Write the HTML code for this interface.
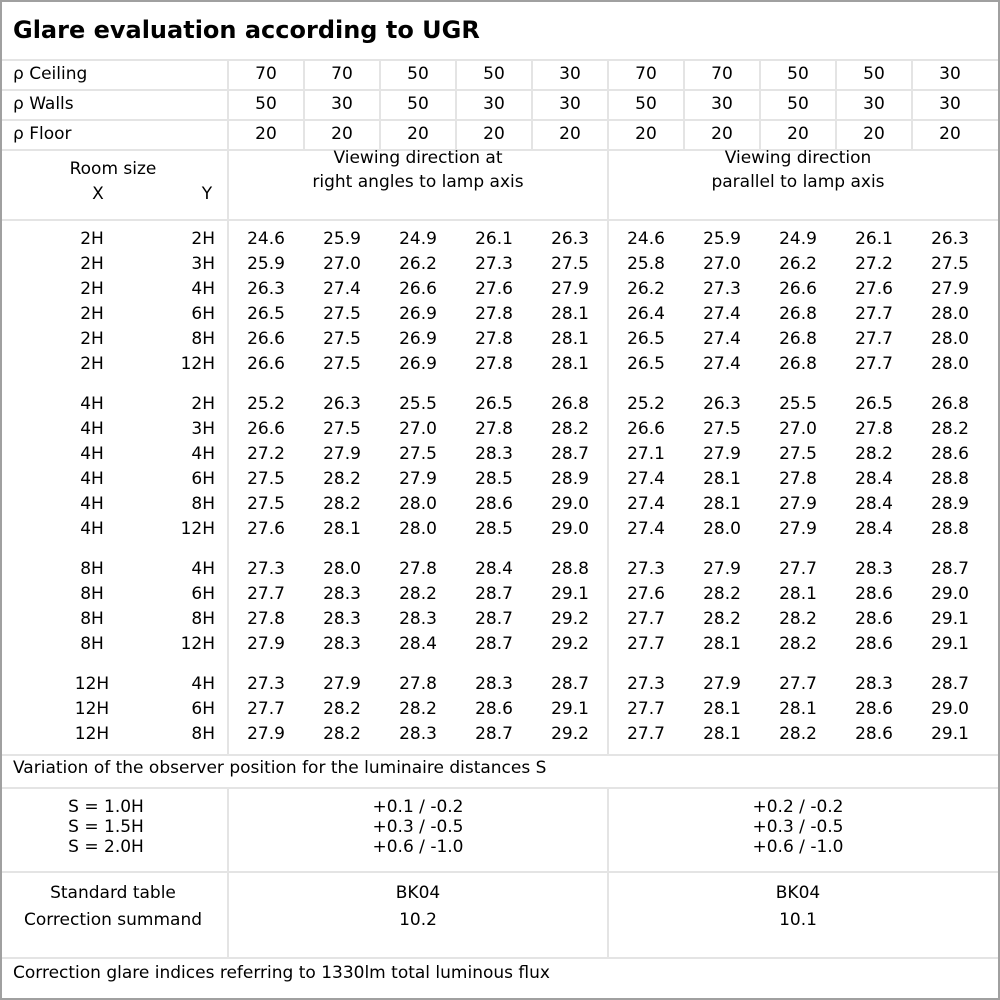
<!DOCTYPE html>
<html><head><meta charset="utf-8"><style>
body{margin:0;width:1000px;height:1000px;background:#fff;position:relative;overflow:hidden;font-family:"DejaVu Sans","Liberation Sans",sans-serif;font-size:17px;color:#000}
.h{position:absolute;height:2px;background:#e4e4e4}
.v{position:absolute;width:2px;background:#e4e4e4}
.t{position:absolute;white-space:nowrap;line-height:20px}
.c{transform:translateX(-50%);text-align:center}
</style></head><body>
<div style="position:absolute;left:0;top:0;width:996px;height:996px;border:2px solid #a0a0a0"></div>
<div class="t" style="left:13px;top:16px;font-size:24px;font-weight:bold;line-height:28px">Glare evaluation according to UGR</div>
<div id="g"></div>
<script>
var g=document.getElementById('g'),h='';
function H(y,x1,x2){h+='<div class="h" style="top:'+y+'px;left:'+x1+'px;width:'+(x2-x1)+'px"></div>';}
function V(x,y1,y2){h+='<div class="v" style="left:'+x+'px;top:'+y1+'px;height:'+(y2-y1)+'px"></div>';}
function T(x,y,s,c,st){h+='<div class="t'+(c?' c':'')+'" style="left:'+x+'px;top:'+(y-10)+'px;'+(st||'')+'">'+s+'</div>';}
[59,89,119,149,219,754,787,871,957].forEach(function(y){H(y,2,998);});
V(227,59,754);V(227,787,957);V(607,149,754);V(607,787,957);
for(var k=1;k<10;k++)if(k!=5)V(227+76*k,59,149);else V(607,59,149);
var rows=[['ρ Ceiling',[70,70,50,50,30,70,70,50,50,30]],['ρ Walls',[50,30,50,30,30,50,30,50,30,30]],['ρ Floor',[20,20,20,20,20,20,20,20,20,20]]];
rows.forEach(function(r,i){var y=74+30*i;T(13,y,r[0]);r[1].forEach(function(v,j){T(266+76*j,y,v,1);});});
T(113,169,'Room size',1);T(98,194,'X',1);T(207,194,'Y',1);
T(418,158,'Viewing direction at',1);T(418,182,'right angles to lamp axis',1);
T(798,158,'Viewing direction',1);T(798,182,'parallel to lamp axis',1);
var d=[
[239,'2H','2H','24.6 25.9 24.9 26.1 26.3 24.6 25.9 24.9 26.1 26.3'],
[264,'2H','3H','25.9 27.0 26.2 27.3 27.5 25.8 27.0 26.2 27.2 27.5'],
[289,'2H','4H','26.3 27.4 26.6 27.6 27.9 26.2 27.3 26.6 27.6 27.9'],
[314,'2H','6H','26.5 27.5 26.9 27.8 28.1 26.4 27.4 26.8 27.7 28.0'],
[339,'2H','8H','26.6 27.5 26.9 27.8 28.1 26.5 27.4 26.8 27.7 28.0'],
[364,'2H','12H','26.6 27.5 26.9 27.8 28.1 26.5 27.4 26.8 27.7 28.0'],
[404,'4H','2H','25.2 26.3 25.5 26.5 26.8 25.2 26.3 25.5 26.5 26.8'],
[429,'4H','3H','26.6 27.5 27.0 27.8 28.2 26.6 27.5 27.0 27.8 28.2'],
[454,'4H','4H','27.2 27.9 27.5 28.3 28.7 27.1 27.9 27.5 28.2 28.6'],
[479,'4H','6H','27.5 28.2 27.9 28.5 28.9 27.4 28.1 27.8 28.4 28.8'],
[504,'4H','8H','27.5 28.2 28.0 28.6 29.0 27.4 28.1 27.9 28.4 28.9'],
[529,'4H','12H','27.6 28.1 28.0 28.5 29.0 27.4 28.0 27.9 28.4 28.8'],
[569,'8H','4H','27.3 28.0 27.8 28.4 28.8 27.3 27.9 27.7 28.3 28.7'],
[594,'8H','6H','27.7 28.3 28.2 28.7 29.1 27.6 28.2 28.1 28.6 29.0'],
[619,'8H','8H','27.8 28.3 28.3 28.7 29.2 27.7 28.2 28.2 28.6 29.1'],
[644,'8H','12H','27.9 28.3 28.4 28.7 29.2 27.7 28.1 28.2 28.6 29.1'],
[684,'12H','4H','27.3 27.9 27.8 28.3 28.7 27.3 27.9 27.7 28.3 28.7'],
[709,'12H','6H','27.7 28.2 28.2 28.6 29.1 27.7 28.1 28.1 28.6 29.0'],
[734,'12H','8H','27.9 28.2 28.3 28.7 29.2 27.7 28.1 28.2 28.6 29.1']];
d.forEach(function(r){T(92,r[0],r[1],1);h+='<div class="t" style="right:785px;top:'+(r[0]-10)+'px">'+r[2]+'</div>';
r[3].split(' ').forEach(function(v,j){T(266+76*j,r[0],v,1);});});
T(13,768,'Variation of the observer position for the luminaire distances S');
['S = 1.0H','S = 1.5H','S = 2.0H'].forEach(function(s,i){T(106,807+20*i,s,1);});
['+0.1 / -0.2','+0.3 / -0.5','+0.6 / -1.0'].forEach(function(s,i){T(418,807+20*i,s,1);});
['+0.2 / -0.2','+0.3 / -0.5','+0.6 / -1.0'].forEach(function(s,i){T(798,807+20*i,s,1);});
T(113,893,'Standard table',1);T(113,920,'Correction summand',1);
T(418,893,'BK04',1);T(418,920,'10.2',1);T(798,893,'BK04',1);T(798,920,'10.1',1);
T(13,973,'Correction glare indices referring to 1330lm total luminous flux');
g.innerHTML=h;
</script>
</body></html>
